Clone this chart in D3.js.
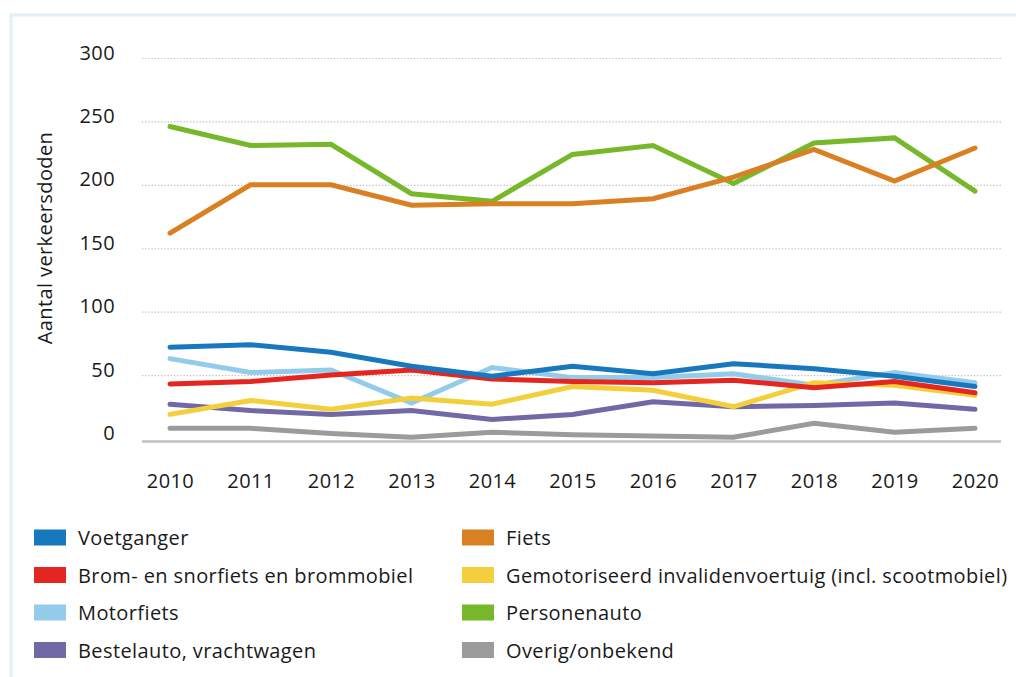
<!DOCTYPE html>
<html>
<head>
<meta charset="utf-8">
<script src="https://cdn.jsdelivr.net/npm/d3@7"></script>
<style>
  html, body { margin: 0; padding: 0; background: #fff; }
  svg { display: block; font-family: "Open Sans", "Noto Sans", sans-serif; letter-spacing: 0.4px; }
</style>
</head>
<body>
<svg id="chart" width="1016" height="677"></svg>
<script>
// Verkeersdoden per vervoerwijze, 2010-2020
const years = [2010, 2011, 2012, 2013, 2014, 2015, 2016, 2017, 2018, 2019, 2020];
const yTicks = [0, 50, 100, 150, 200, 250, 300];

const voetganger   = [72, 74, 68, 57, 49, 57, 51, 59, 55, 49, 41];
const fiets        = [162, 200, 200, 184, 185, 185, 189, 206, 228, 203, 229];
const brom         = [43, 45, 50, 54, 47, 45, 44, 46, 40, 45, 36];
const gemotoriseerd = [19, 30, 23, 32, 27, 41, 38, 25, 44, 42, 34];
const motorfiets   = [63, 52, 54, 28, 56, 48, 48, 51, 42, 52, 44];
const personenauto = [246, 231, 232, 193, 187, 224, 231, 201, 233, 237, 195];
const bestelauto   = [27, 22, 19, 22, 15, 19, 29, 25, 26, 28, 23];
const overig       = [8, 8, 4, 1, 5, 3, 2, 1, 12, 5, 8];

const seriesNames = [
  "Voetganger", "Fiets",
  "Brom- en snorfiets en brommobiel", "Gemotoriseerd invalidenvoertuig (incl. scootmobiel)",
  "Motorfiets", "Personenauto",
  "Bestelauto, vrachtwagen", "Overig/onbekend"
];
const seriesValues = [voetganger, fiets, brom, gemotoriseerd, motorfiets, personenauto, bestelauto, overig];
const seriesColors = ["#1878be", "#d98122", "#e42520", "#f3cf3b", "#93cbea", "#77b82b", "#7168a6", "#9b9b9b"];

const series = seriesNames.map((name, i) => ({ name, values: seriesValues[i], color: seriesColors[i] }));

const svg = d3.select("#chart");

// light frame around the figure
svg.append("rect")
  .attr("x", 11).attr("y", 15)
  .attr("width", 1040).attr("height", 700)
  .attr("fill", "none")
  .attr("stroke", "#e0f0fa")
  .attr("stroke-width", 3);

const gridLeft = 142, gridRight = 1001;

const x = d3.scalePoint().domain(years).range([170, 975]);
const y = d3.scaleLinear().domain([0, 300]).range([438.5, 58]);

// y axis with dotted gridlines
const yAxis = svg.append("g")
  .attr("transform", `translate(${gridLeft},0)`)
  .call(d3.axisLeft(y).tickValues(yTicks).tickSize(-(gridRight - gridLeft)).tickPadding(27));
yAxis.select(".domain").remove();
yAxis.selectAll(".tick line")
  .attr("stroke", "#b8b8b8")
  .attr("stroke-width", 1.2)
  .attr("stroke-dasharray", "1.2,2")
  .filter(d => d === 0).remove();
yAxis.selectAll(".tick text")
  .attr("dy", "0.05em")
  .attr("fill", "#1a1a1a")
  .style("font-size", "20px")
  .style("font-family", "'Open Sans', 'Noto Sans', sans-serif");

// baseline
const baseY = y(0) + 3;
svg.append("line")
  .attr("x1", gridLeft).attr("x2", gridRight)
  .attr("y1", baseY).attr("y2", baseY)
  .attr("stroke", "#c0c0c0")
  .attr("stroke-width", 2.5);

// x axis labels
const xAxis = svg.append("g")
  .attr("transform", `translate(0,${baseY})`)
  .call(d3.axisBottom(x).tickSize(0).tickFormat(d3.format("d")));
xAxis.select(".domain").remove();
xAxis.selectAll(".tick text")
  .attr("y", 46.5)
  .attr("dy", 0)
  .attr("fill", "#1a1a1a")
  .style("font-size", "20px")
  .style("font-family", "'Open Sans', 'Noto Sans', sans-serif");

// y axis title
svg.append("text")
  .attr("transform", "translate(52,238) rotate(-90)")
  .attr("text-anchor", "middle")
  .attr("fill", "#1a1a1a")
  .style("font-size", "20px")
  .text("Aantal verkeersdoden");

// lines, drawn so the first legend entry ends up on top
const line = d3.line()
  .x((d, i) => x(years[i]))
  .y(d => y(d));

svg.append("g")
  .selectAll("path")
  .data(series.slice().reverse())
  .join("path")
  .attr("d", d => line(d.values))
  .attr("fill", "none")
  .attr("stroke", d => d.color)
  .attr("stroke-width", 5)
  .attr("stroke-linejoin", "miter")
  .attr("stroke-linecap", "round");

// legend in two columns
const legendCols = [34, 462];
const legendRows = [537.5, 575, 612.5, 650];
const legend = svg.append("g")
  .selectAll("g")
  .data(series)
  .join("g")
  .attr("transform", (d, i) => `translate(${legendCols[i % 2]},${legendRows[Math.floor(i / 2)]})`);
legend.append("rect")
  .attr("x", 0).attr("y", -8)
  .attr("width", 32).attr("height", 16)
  .attr("fill", d => d.color);
legend.append("text")
  .attr("x", 44).attr("y", 7.5)
  .attr("fill", "#1a1a1a")
  .style("font-size", "20px")
  .text(d => d.name);
</script>
</body>
</html>
